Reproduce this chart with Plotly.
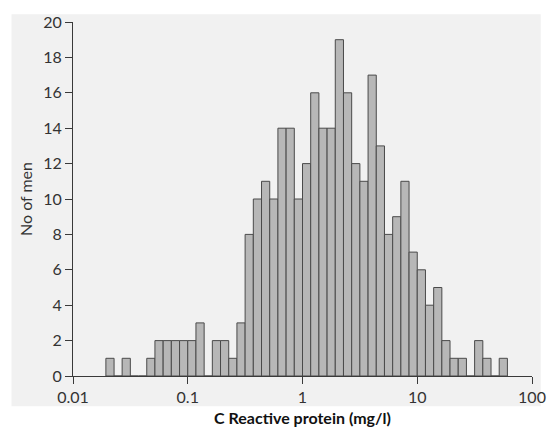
import math
import plotly.graph_objects as go

# Bin centres (C reactive protein, mg/l) — 14 bins per decade on log scale
crp_bin_centres = [
    0.0210, 0.0247, 0.0291, 0.0343, 0.0405, 0.0477, 0.0562, 0.0663, 0.0781, 0.0921,
    0.1086, 0.1280, 0.1509, 0.1778, 0.2096, 0.2471, 0.2913, 0.3433, 0.4047, 0.4771,
    0.5623, 0.6629, 0.7814, 0.9211, 1.086, 1.280, 1.509, 1.778, 2.096, 2.471,
    2.913, 3.433, 4.047, 4.771, 5.623, 6.629, 7.814, 9.211, 10.86, 12.80,
    15.09, 17.78, 20.96, 24.71, 29.13, 34.33, 40.47, 47.71, 56.23,
]
no_of_men = [
    1, 0, 1, 0, 0, 1, 2, 2, 2, 2,
    2, 3, 0, 2, 2, 1, 3, 8, 10, 11,
    10, 14, 14, 10, 12, 16, 14, 14, 19, 16,
    12, 11, 17, 13, 8, 9, 11, 7, 6, 4,
    5, 2, 1, 1, 0, 2, 1, 0, 1,
]
bin_width_decades = 1 / 14
x_tick_values = [0.01, 0.1, 1, 10, 100]
x_tick_labels = ["0.01", "0.1", "1", "10", "100"]
y_tick_values = [0, 2, 4, 6, 8, 10, 12, 14, 16, 18, 20]

FONT = "Lato, 'Open Sans', sans-serif"
AXIS_COL = "#3a3a3a"

log_x = [math.log10(v) for v in crp_bin_centres]

fig = go.Figure(
    go.Bar(
        x=log_x,
        y=no_of_men,
        width=bin_width_decades,
        marker=dict(color="#b7b7b7", line=dict(color="#4a4a4a", width=1)),
        hoverinfo="skip",
    )
)

W, H = 558, 436
L, R, T, B = 73, 15, 17, 56
pw, ph = W - L - R, H - T - B

def px_to_paper_x(px):
    return (px - L) / pw

def px_to_paper_y(py):
    return (H - B - py) / ph

fig.add_shape(
    type="rect", xref="paper", yref="paper",
    x0=px_to_paper_x(10), x1=px_to_paper_x(552),
    y0=px_to_paper_y(411), y1=px_to_paper_y(9),
    fillcolor="#f1f1f1", line=dict(width=0), layer="below",
)

fig.update_layout(
    width=W, height=H,
    margin=dict(l=L, r=R, t=T, b=B, pad=0),
    paper_bgcolor="white",
    plot_bgcolor="rgba(0,0,0,0)",
    showlegend=False,
    bargap=0,
    font=dict(family=FONT, color="#333333"),
)

fig.update_xaxes(
    range=[-2, 2],
    tickvals=[math.log10(v) for v in x_tick_values],
    ticktext=x_tick_labels,
    ticks="outside", ticklen=7, tickwidth=1, tickcolor=AXIS_COL,
    showline=True, linecolor=AXIS_COL, linewidth=1,
    showgrid=False, zeroline=False,
    tickfont=dict(size=16, color="#333333", family=FONT),
    title=dict(text="<b>C Reactive protein (mg/l)</b>",
               font=dict(size=16, color="#111111", family=FONT), standoff=7),
)
fig.update_yaxes(
    range=[0, 20],
    tickvals=y_tick_values,
    ticks="outside", ticklen=7, tickwidth=1, tickcolor=AXIS_COL,
    showline=True, linecolor=AXIS_COL, linewidth=1,
    showgrid=False, zeroline=False,
    tickfont=dict(size=16, color="#333333", family=FONT),
    title=dict(text="No of men", font=dict(size=16, color="#333333", family=FONT), standoff=6),
)

fig.write_html(
    "out.html",
    config={"displayModeBar": False, "staticPlot": True},
    post_script=(
        "document.documentElement.style.margin='0';"
        "document.documentElement.style.padding='0';"
        "document.documentElement.style.overflow='hidden';"
        "document.body.style.margin='0';"
        "document.body.style.padding='0';"
        "document.body.style.overflow='hidden';"
    ),
)
